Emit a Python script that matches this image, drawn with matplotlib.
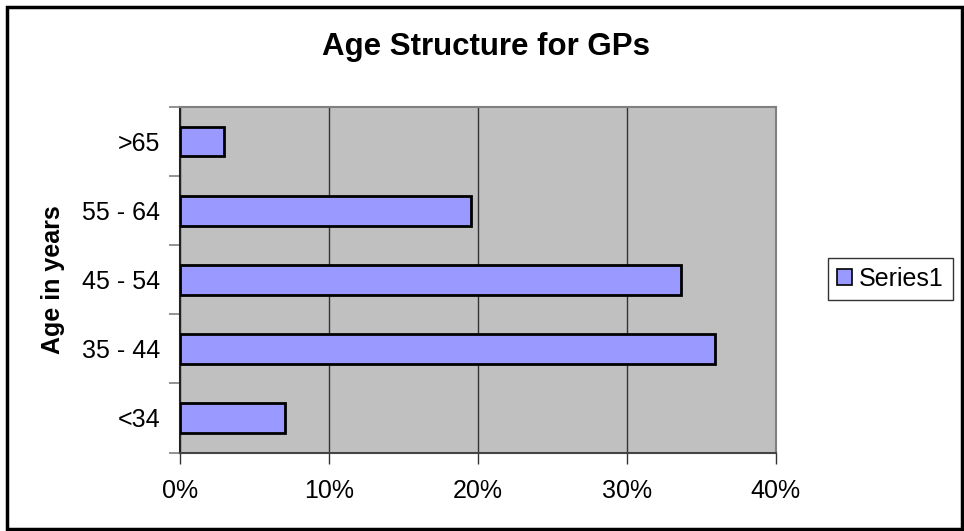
import matplotlib.pyplot as plt
from matplotlib.patches import Rectangle, Patch
from matplotlib.ticker import FixedLocator, PercentFormatter

# data
age_groups = ["<34", "35 - 44", "45 - 54", "55 - 64", ">65"]
share = [7.0, 35.9, 33.6, 19.5, 2.9]
series_name = "Series1"

plt.rcParams['font.family'] = ['Liberation Sans', 'DejaVu Sans']

fig = plt.figure(figsize=(9.64, 5.31), dpi=100)
ax = fig.add_axes([0.1872, 0.1478, 0.6177, 0.6507])

bar_color = "#9999FF"
ax.set_facecolor("#C0C0C0")
ypos = list(range(len(age_groups)))
ax.barh(ypos, share, height=0.43, color=bar_color, edgecolor="black", linewidth=2, zorder=3)

ax.set_xlim(0, 40)
ax.set_ylim(-0.5, len(age_groups) - 0.5)
ax.set_xticks([0, 10, 20, 30, 40])
ax.xaxis.set_major_formatter(PercentFormatter(decimals=0))
ax.grid(axis="x", color="#333333", linewidth=1, zorder=1)

ax.set_yticks(ypos)
ax.set_yticklabels(age_groups)
ax.yaxis.set_minor_locator(FixedLocator([i - 0.5 for i in range(len(age_groups) + 1)]))
ax.tick_params(axis="y", which="major", length=0, pad=14.5, labelsize=18)
ax.tick_params(axis="y", which="minor", length=8, width=1.2, color="#808080")
ax.tick_params(axis="x", length=8, width=1, color="#333333", pad=11, labelsize=18)

for side in ["top", "right"]:
    ax.spines[side].set_color("#808080")
    ax.spines[side].set_linewidth(1.5)
ax.spines["left"].set_color("#222222")
ax.spines["bottom"].set_color("#444444")
ax.spines["left"].set_linewidth(1.5)
ax.spines["bottom"].set_linewidth(1.5)

fig.text(0.504, 0.911, "Age Structure for GPs", ha="center", va="center",
         fontsize=22.5, fontweight="bold")
fig.text(0.055, 0.473, "Age in years", ha="center", va="center", rotation=90,
         fontsize=18, fontweight="bold")

leg = fig.legend(handles=[Patch(facecolor=bar_color, edgecolor="black", linewidth=1.2, label=series_name)],
                 loc="upper left", bbox_to_anchor=(828 / 964, 1 - 258 / 531),
                 borderaxespad=0, fancybox=False, framealpha=1, fontsize=18,
                 handlelength=0.6, handleheight=0.6, handletextpad=0.3,
                 borderpad=0.35)
leg.get_frame().set_edgecolor("#333333")
leg.get_frame().set_linewidth(1)

# outer chart border
fig.patches.append(Rectangle((7 / 964, 2 / 531), 955 / 964, 522 / 531, transform=fig.transFigure,
                             fill=False, edgecolor="black", linewidth=2.5))

fig.savefig("out.png", dpi=100)
